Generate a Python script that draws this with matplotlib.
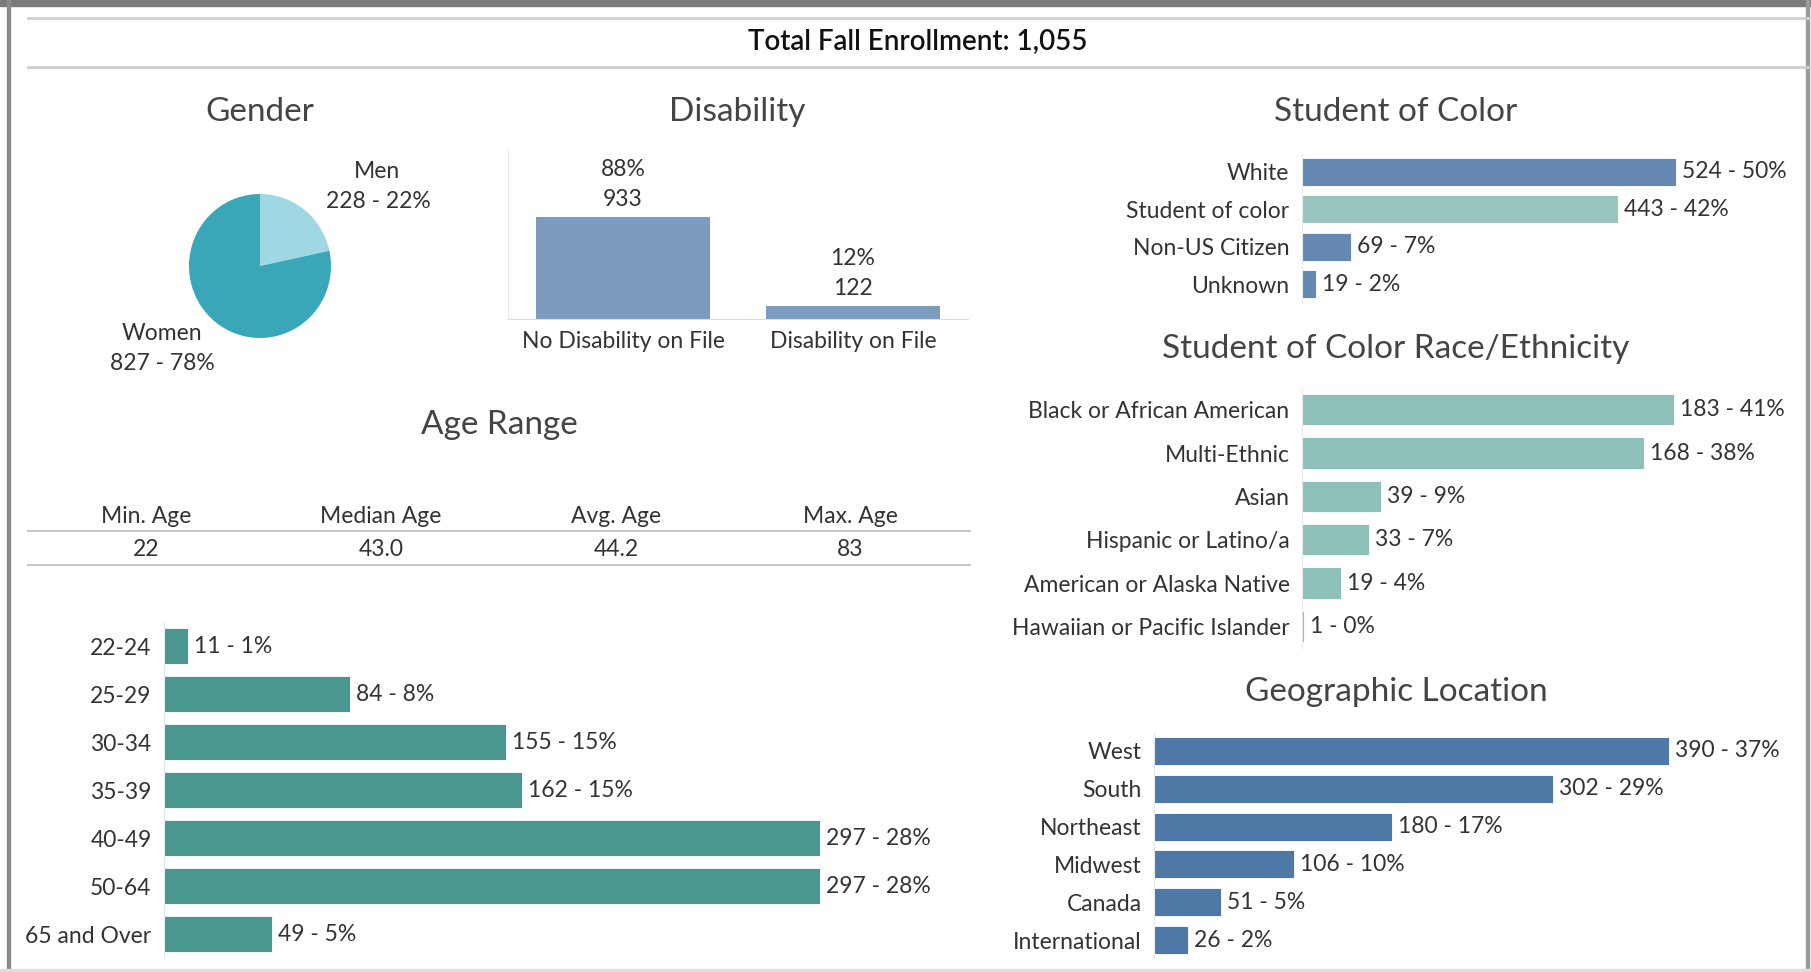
import matplotlib
matplotlib.use("Agg")
import matplotlib.pyplot as plt
from matplotlib.lines import Line2D
from matplotlib.patches import Rectangle

plt.rcParams['font.family'] = ['Lato', 'DejaVu Sans']

# data
total_enroll = "1,055"
gender_cats = ["Men", "Women"]
gender_vals = [228, 827]
gender_pct = [22, 78]

dis_cats = ["No Disability on File", "Disability on File"]
dis_vals = [933, 122]
dis_pct = [88, 12]

age_stat_names = ["Min. Age", "Median Age", "Avg. Age", "Max. Age"]
age_stat_vals = ["22", "43.0", "44.2", "83"]

age_cats = ["22-24", "25-29", "30-34", "35-39", "40-49", "50-64", "65 and Over"]
age_vals = [11, 84, 155, 162, 297, 297, 49]
age_pct = [1, 8, 15, 15, 28, 28, 5]

soc_cats = ["White", "Student of color", "Non-US Citizen", "Unknown"]
soc_vals = [524, 443, 69, 19]
soc_pct = [50, 42, 7, 2]

race_cats = ["Black or African American", "Multi-Ethnic", "Asian", "Hispanic or Latino/a",
             "American or Alaska Native", "Hawaiian or Pacific Islander"]
race_vals = [183, 168, 39, 33, 19, 1]
race_pct = [41, 38, 9, 7, 4, 0]

geo_cats = ["West", "South", "Northeast", "Midwest", "Canada", "International"]
geo_vals = [390, 302, 180, 106, 51, 26]
geo_pct = [37, 29, 17, 10, 5, 2]

W, H = 1811, 972
fig = plt.figure(figsize=(W / 100, H / 100), dpi=100)
fig.patch.set_facecolor("white")

TXT = "#333333"
TITLE = "#444444"
GRID = "#d4d4d4"
FS = 16.5     # labels
TFS = 24      # section titles


def px_axes(left, top, right, bottom):
    return fig.add_axes([left / W, 1 - bottom / H, (right - left) / W, (bottom - top) / H])


def ftext(x, y, s, **kw):
    kw.setdefault("ha", "center")
    kw.setdefault("va", "center")
    kw.setdefault("color", TXT)
    fig.text(x / W, 1 - y / H, s, **kw)


def fline(x0, x1, y0, y1, color=GRID, lw=1.5):
    fig.add_artist(Line2D([x0 / W, x1 / W], [1 - y0 / H, 1 - y1 / H], color=color, lw=lw,
                          transform=fig.transFigure))


def hbar(box, cats, vals, pct, colors, xmax, frac, fs=FS):
    ax = px_axes(*box)
    ys = list(range(len(cats)))
    ax.barh(ys, vals, height=frac, color=colors, edgecolor="white", linewidth=0.6)
    ax.set_ylim(len(cats) - 0.5, -0.5)
    ax.set_xlim(0, xmax)
    ax.set_yticks(ys)
    ax.set_yticklabels(cats, fontsize=fs, color=TXT)
    ax.tick_params(axis="y", length=0, pad=9)
    ax.set_xticks([])
    for s in ["top", "right", "bottom"]:
        ax.spines[s].set_visible(False)
    ax.spines["left"].set_color("#e8e8e8")
    for y, v, p in zip(ys, vals, pct):
        ax.annotate(f"{v} - {p}%", (v, y), xytext=(6, 0), textcoords="offset pixels",
                    ha="left", va="center", fontsize=fs, color=TXT)
    ax.set_facecolor("none")
    return ax


# frame
fig.add_artist(Rectangle((0, 1 - 6 / H), 1, 6 / H, transform=fig.transFigure, color="#7a7a7a"))
fig.add_artist(Rectangle((7 / W, 0), 3 / W, 1, transform=fig.transFigure, color="#8a8a8a"))
fig.add_artist(Rectangle((1806 / W, 0), 3 / W, 1, transform=fig.transFigure, color="#9a9a9a"))
fig.add_artist(Rectangle((0, 0), 1, 3 / H, transform=fig.transFigure, color="#dedede"))

# main title
fline(28, 1811, 18, 18, color="#cfcfcf", lw=2)
fline(28, 1811, 67, 67, color="#cfcfcf", lw=2)
ftext(918, 42, f"Total Fall Enrollment: {total_enroll}", fontsize=20, fontweight="semibold",
      color="#111111")

# section titles
ftext(260, 112, "Gender", fontsize=TFS, color=TITLE)
ftext(737, 112, "Disability", fontsize=TFS, color=TITLE)
ftext(1396, 112, "Student of Color", fontsize=TFS, color=TITLE)
ftext(499, 425, "Age Range", fontsize=TFS, color=TITLE)
ftext(1396, 349, "Student of Color Race/Ethnicity", fontsize=TFS, color=TITLE)
ftext(1396, 692, "Geographic Location", fontsize=TFS, color=TITLE)

# gender pie
axp = px_axes(189, 194, 331, 338)
axp.pie(gender_vals, colors=["#9fd8e2", "#3aa7b9"], startangle=90, counterclock=False,
        wedgeprops=dict(linewidth=0))
axp.set_aspect("auto")
axp.set_xlim(-1, 1)
axp.set_ylim(-1, 1)
ftext(377, 171, gender_cats[0], fontsize=FS)
ftext(378, 201, f"{gender_vals[0]} - {gender_pct[0]}%", fontsize=FS)
ftext(162, 333, gender_cats[1], fontsize=FS)
ftext(162, 363, f"{gender_vals[1]} - {gender_pct[1]}%", fontsize=FS)

# disability bars
axd = px_axes(508, 150, 968, 319)
axd.bar([0, 1], dis_vals, width=0.76, color="#7b9bbf")
axd.set_xlim(-0.5, 1.5)
axd.set_ylim(0, 933 * 169 / 102)
axd.set_xticks([0, 1])
axd.set_xticklabels(dis_cats, fontsize=FS, color=TXT)
axd.tick_params(axis="x", length=0, pad=9)
axd.set_yticks([])
for s in ["top", "right"]:
    axd.spines[s].set_visible(False)
axd.spines["left"].set_color("#ececec")
axd.spines["bottom"].set_color("#dddddd")
for i, (v, p) in enumerate(zip(dis_vals, dis_pct)):
    axd.annotate(str(v), (i, v), xytext=(0, 17), textcoords="offset pixels",
                 ha="center", va="center", fontsize=FS, color=TXT)
    axd.annotate(f"{p}%", (i, v), xytext=(0, 47), textcoords="offset pixels",
                 ha="center", va="center", fontsize=FS, color=TXT)

# age summary table
col_x = [146, 381, 616, 850]
for x, n, v in zip(col_x, age_stat_names, age_stat_vals):
    ftext(x, 516, n, fontsize=FS)
    ftext(x, 549, v, fontsize=FS)
fline(28, 970, 531, 531, color="#c8c8c8", lw=1.5)
fline(28, 970, 565, 565, color="#c8c8c8", lw=1.5)

# age bars
hbar((164, 622, 980, 958), age_cats, age_vals, age_pct, "#4a9790", 816 / 2.209, 0.73)

# student of color
soc_colors = ["#6689b3", "#99c5bf", "#6689b3", "#6689b3"]
hbar((1302, 153, 1800, 303), soc_cats, soc_vals, soc_pct, soc_colors, 498 / 0.714, 0.75)

# race / ethnicity
hbar((1302, 388, 1800, 648), race_cats, race_vals, race_pct, "#8cc0b8", 498 / 2.033, 0.72)

# geographic
hbar((1154, 732, 1800, 959), geo_cats, geo_vals, geo_pct, "#4e79a7", 646 / 1.32, 0.74)

fig.savefig("out.png", dpi=100, facecolor="white")
